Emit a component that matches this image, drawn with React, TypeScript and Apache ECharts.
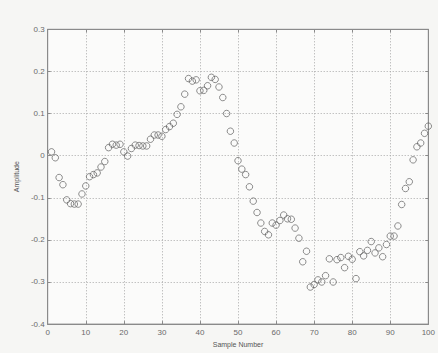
import React, { useEffect, useRef } from "react";
import * as echarts from "echarts";

const sampleNumbers: number[] = Array.from({ length: 100 }, (_, i) => i + 1);
const amplitudes: number[] = [
  0.009, -0.005, -0.052, -0.069, -0.105, -0.114, -0.115, -0.115, -0.091, -0.072,
  -0.05, -0.045, -0.041, -0.027, -0.014, 0.019, 0.027, 0.025, 0.027, 0.009,
  -0.001, 0.017, 0.025, 0.024, 0.023, 0.023, 0.039, 0.049, 0.049, 0.046,
  0.062, 0.069, 0.077, 0.098, 0.116, 0.146, 0.183, 0.177, 0.18, 0.154,
  0.155, 0.166, 0.186, 0.181, 0.163, 0.138, 0.1, 0.058, 0.03, -0.012,
  -0.032, -0.045, -0.074, -0.108, -0.135, -0.16, -0.18, -0.188, -0.16, -0.165,
  -0.154, -0.141, -0.15, -0.151, -0.172, -0.196, -0.252, -0.227, -0.312, -0.306,
  -0.295, -0.3, -0.285, -0.245, -0.3, -0.247, -0.242, -0.266, -0.239, -0.246,
  -0.292, -0.228, -0.238, -0.225, -0.204, -0.231, -0.219, -0.24, -0.211, -0.191,
  -0.191, -0.167, -0.116, -0.078, -0.062, -0.01, 0.021, 0.03, 0.053, 0.07,
];

const xName = "Sample Number";
const yName = "Amplitude";

export default function App() {
  const ref = useRef<HTMLDivElement>(null);
  useEffect(() => {
    document.body.style.margin = "0";
    if (!ref.current) return;
    const chart = echarts.init(ref.current, undefined, { renderer: "svg" });
    const font = "Liberation Sans, Arial, sans-serif";
    const axisColor = "#8a8a8a";
    const labelColor = "#6a6a6a";
    chart.setOption({
      animation: false,
      backgroundColor: "#f6f6f4",
      grid: {
        left: 47.7,
        right: 6.7,
        top: 29.3,
        bottom: 21.3,
        show: true,
        backgroundColor: "#fbfbfa",
        borderColor: axisColor,
        borderWidth: 1,
      },
      xAxis: [
        {
          type: "value",
          min: 0,
          max: 100,
          interval: 10,
          name: xName,
          nameLocation: "middle",
          nameGap: 12,
          nameTextStyle: { fontSize: 7, color: "#555555", fontFamily: font },
          axisLine: { show: true, onZero: false, lineStyle: { color: axisColor } },
          axisTick: { show: true, inside: true, length: 3, lineStyle: { color: axisColor } },
          axisLabel: { fontSize: 8, color: labelColor, fontFamily: font, margin: 4 },
          splitLine: { show: true, lineStyle: { color: "#a8a8a8", type: [1, 2], width: 1 } },
        },
        {
          type: "value",
          position: "top",
          min: 0,
          max: 100,
          interval: 10,
          axisLine: { show: true, onZero: false, lineStyle: { color: axisColor } },
          axisTick: { show: true, inside: true, length: 3, lineStyle: { color: axisColor } },
          axisLabel: { show: false },
          splitLine: { show: false },
        },
      ],
      yAxis: [
        {
          type: "value",
          min: -0.4,
          max: 0.3,
          interval: 0.1,
          name: yName,
          nameLocation: "middle",
          nameGap: 25,
          nameTextStyle: { fontSize: 7, color: "#555555", fontFamily: font },
          axisLine: { show: true, onZero: false, lineStyle: { color: axisColor } },
          axisTick: { show: true, inside: true, length: 3, lineStyle: { color: axisColor } },
          axisLabel: {
            fontSize: 8,
            color: labelColor,
            fontFamily: font,
            margin: 3,
            formatter: (v: number) => (Math.abs(v) < 1e-9 ? "0" : v.toFixed(1)),
          },
          splitLine: { show: true, lineStyle: { color: "#a8a8a8", type: [1, 2], width: 1 } },
        },
        {
          type: "value",
          position: "right",
          min: -0.4,
          max: 0.3,
          interval: 0.1,
          axisLine: { show: true, onZero: false, lineStyle: { color: axisColor } },
          axisTick: { show: true, inside: true, length: 3, lineStyle: { color: axisColor } },
          axisLabel: { show: false },
          splitLine: { show: false },
        },
      ],
      series: [
        {
          type: "scatter",
          xAxisIndex: 0,
          yAxisIndex: 0,
          symbol: "circle",
          symbolSize: 6.5,
          itemStyle: { color: "rgba(255,255,255,0)", borderColor: "#606060", borderWidth: 0.9 },
          data: sampleNumbers.map((n, i) => [n, amplitudes[i]]),
        },
      ],
    });
    return () => chart.dispose();
  }, []);
  return <div ref={ref} style={{ width: 438, height: 353 }} />;
}
